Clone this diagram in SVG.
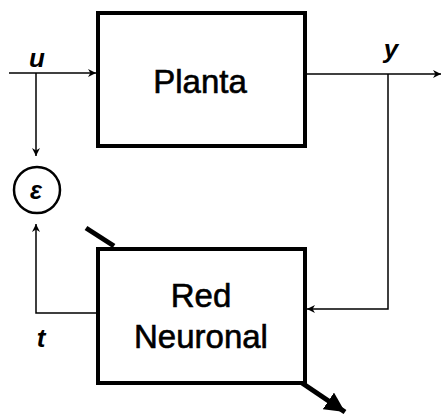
<svg xmlns="http://www.w3.org/2000/svg" width="442" height="414" viewBox="0 0 442 414">
<style>
.blk{fill:#fff;stroke:#000;stroke-width:4}
.ln{fill:none;stroke:#000;stroke-width:1.5}
.thick{fill:none;stroke:#000;stroke-width:5}
.lbl{font-family:"Liberation Sans",Arial,sans-serif;font-size:33px;fill:#000;stroke:#000;stroke-width:0.6;text-anchor:middle}
.var{font-family:"Liberation Sans",Arial,sans-serif;font-size:26px;font-weight:bold;font-style:italic;fill:#000;text-anchor:middle}
</style>
<defs>
<marker id="ah" viewBox="0 0 10 10" refX="10" refY="5" markerWidth="8" markerHeight="8" markerUnits="userSpaceOnUse" orient="auto">
<path d="M0,0 L10,5 L0,10 L3,5 Z" fill="#000"/>
</marker>
<marker id="ahb" viewBox="0 0 10 10" refX="10" refY="5" markerWidth="4" markerHeight="4" orient="auto">
<path d="M0,0 L10,5 L0,10 Z" fill="#000"/>
</marker>
</defs>
<g id="connectors">
<path class="ln" d="M9,73 H96" marker-end="url(#ah)"/>
<path class="ln" d="M36,73 V156" marker-end="url(#ah)"/>
<path class="ln" d="M306,74 H441" marker-end="url(#ah)"/>
<path class="ln" d="M388,74 V309 H307" marker-end="url(#ah)"/>
<path class="ln" d="M97,313 H36 V224" marker-end="url(#ah)"/>
<path class="thick" d="M86,228 L114,246"/>
<path class="thick" d="M302,383 L345,412" marker-end="url(#ahb)"/>
</g>
<g id="planta">
<rect class="blk" x="98" y="13" width="207" height="133"/>
<text class="lbl" x="200" y="93">Planta</text>
</g>
<g id="red-neuronal">
<rect class="blk" x="98" y="249" width="207" height="134"/>
<text class="lbl" x="201" y="307">Red</text>
<text class="lbl" x="201" y="348">Neuronal</text>
</g>
<g id="epsilon">
<circle cx="37" cy="190" r="23" fill="#fff" stroke="#000" stroke-width="2.5"/>
<text class="var" x="36" y="199" style="font-size:25px">ε</text>
</g>
<g id="labels">
<text class="var" x="37" y="67">u</text>
<text class="var" x="391" y="58">y</text>
<text class="var" x="41" y="347">t</text>
</g>
</svg>
